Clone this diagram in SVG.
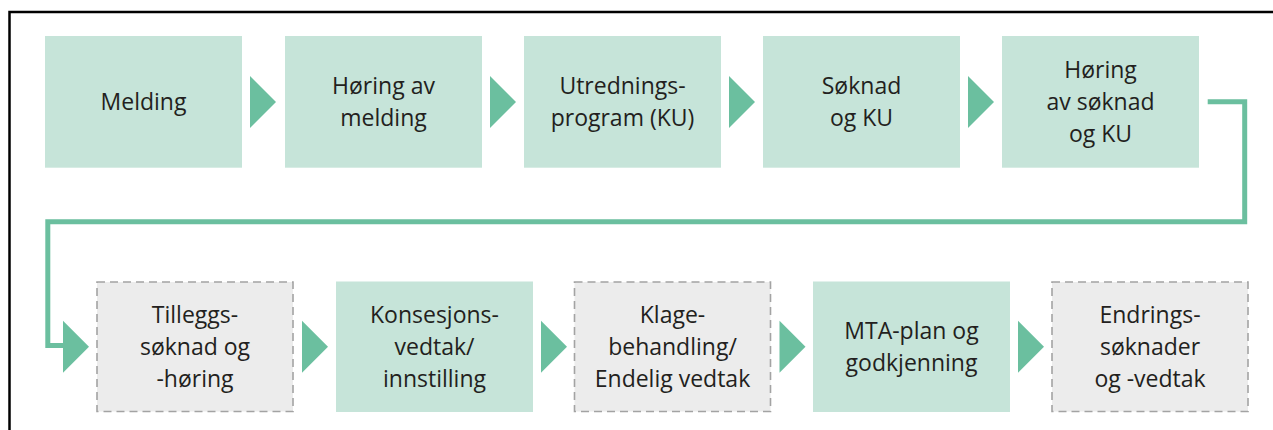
<svg xmlns="http://www.w3.org/2000/svg" width="1273" height="430" viewBox="0 0 1273 430">
<defs>
<style>
.g{fill:#c6e4d9;}
.d{fill:#ececec;stroke:#a3a3a3;stroke-width:1.6;stroke-dasharray:8 5;}
.a{fill:#6bbf9f;}
.t{font-family:"Open Sans","Noto Sans",sans-serif;font-size:23px;fill:#231f20;text-anchor:middle;}
.c{fill:none;stroke:#6bbf9f;stroke-width:5;}
</style>
</defs>
<rect width="1273" height="430" fill="#fff"/>
<path d="M9.5,430 V12 H1273" fill="none" stroke="#000" stroke-width="2.5"/>
<g id="connectors">
<polygon class="a" points="250,76 276,102 250,128"/>
<polygon class="a" points="490,76 516,102 490,128"/>
<polygon class="a" points="729,76 755,102 729,128"/>
<polygon class="a" points="968,76 994,102 968,128"/>
<path class="c" d="M1207.7,101.8 H1244.7 V221.8 H47.8 V345.5 H66"/>
<polygon class="a" points="63,320.7 89,346.7 63,372.7"/>
<polygon class="a" points="302,320.7 328,346.7 302,372.7"/>
<polygon class="a" points="541,320.7 567,346.7 541,372.7"/>
<polygon class="a" points="779.5,320.7 805.5,346.7 779.5,372.7"/>
<polygon class="a" points="1018,320.7 1044,346.7 1018,372.7"/>
</g>
<g id="melding">
<rect class="g" x="45" y="36" width="197" height="131.7"/>
<text class="t" x="143.5" y="110">Melding</text>
</g>
<g id="horing-melding">
<rect class="g" x="285" y="36" width="197" height="131.7"/>
<text class="t" x="383.5" y="93.5">Høring av</text>
<text class="t" x="383.5" y="126">melding</text>
</g>
<g id="utredningsprogram">
<rect class="g" x="524" y="36" width="197" height="131.7"/>
<text class="t" x="622.5" y="93.5">Utrednings-</text>
<text class="t" x="622.5" y="126">program (KU)</text>
</g>
<g id="soknad">
<rect class="g" x="763" y="36" width="197" height="131.7"/>
<text class="t" x="861.5" y="93.5">Søknad</text>
<text class="t" x="861.5" y="126">og KU</text>
</g>
<g id="horing-soknad">
<rect class="g" x="1002" y="36" width="197" height="131.7"/>
<text class="t" x="1100.5" y="78">Høring</text>
<text class="t" x="1100.5" y="110">av søknad</text>
<text class="t" x="1100.5" y="142">og KU</text>
</g>
<g id="tilleggssoknad">
<rect class="d" x="97" y="282" width="196" height="129.5"/>
<text class="t" x="195" y="323">Tilleggs-</text>
<text class="t" x="195" y="355">søknad og</text>
<text class="t" x="195" y="387">-høring</text>
</g>
<g id="konsesjonsvedtak">
<rect class="g" x="336" y="281.5" width="197" height="130.5"/>
<text class="t" x="434.5" y="323">Konsesjons-</text>
<text class="t" x="434.5" y="355">vedtak/</text>
<text class="t" x="434.5" y="387">innstilling</text>
</g>
<g id="klagebehandling">
<rect class="d" x="574.5" y="282" width="196" height="129.5"/>
<text class="t" x="672.5" y="323">Klage-</text>
<text class="t" x="672.5" y="355">behandling/</text>
<text class="t" x="672.5" y="387">Endelig vedtak</text>
</g>
<g id="mta-plan">
<rect class="g" x="813" y="281.5" width="197" height="130.5"/>
<text class="t" x="911.5" y="339">MTA-plan og</text>
<text class="t" x="911.5" y="371">godkjenning</text>
</g>
<g id="endringssoknader">
<rect class="d" x="1052" y="282" width="196" height="129.5"/>
<text class="t" x="1150" y="323">Endrings-</text>
<text class="t" x="1150" y="355">søknader</text>
<text class="t" x="1150" y="387">og -vedtak</text>
</g>
</svg>
